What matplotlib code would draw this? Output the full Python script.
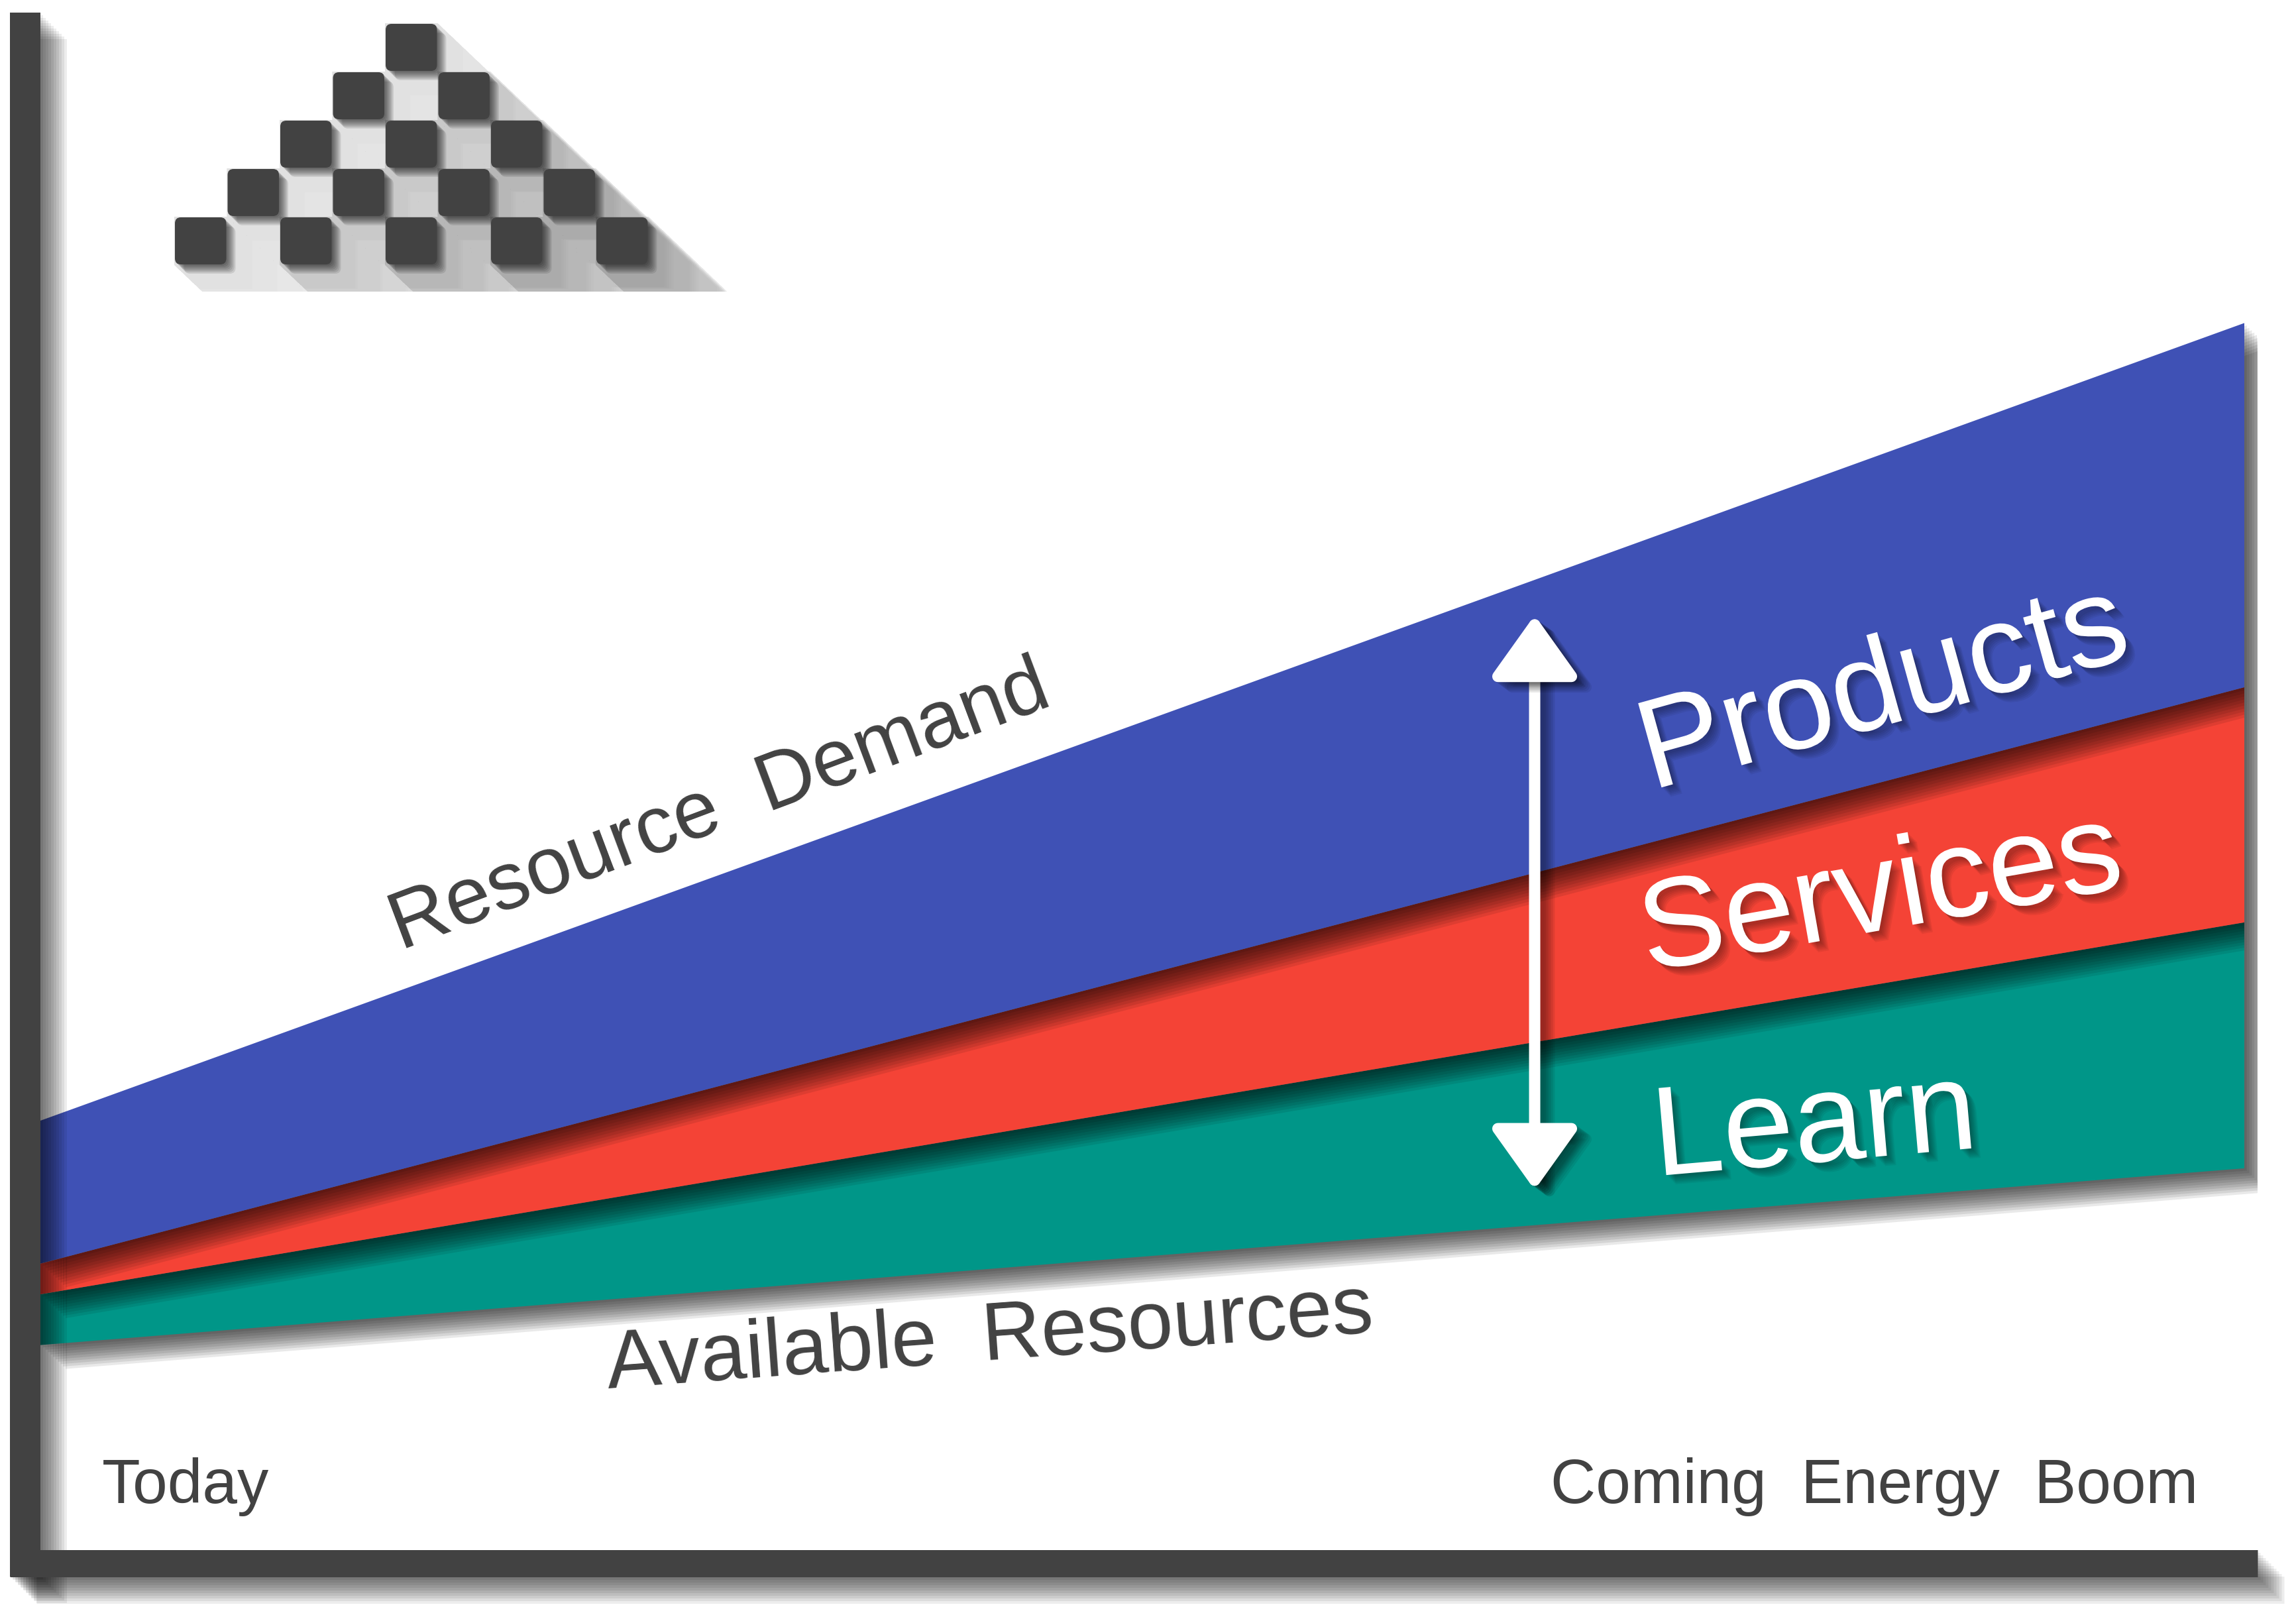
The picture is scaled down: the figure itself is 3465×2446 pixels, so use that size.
import matplotlib
matplotlib.use('Agg')
import matplotlib.pyplot as plt
import matplotlib.patheffects as pe
from matplotlib.patches import FancyBboxPatch, Polygon, Rectangle
import numpy as np

W, H, DPI = 3466, 2446, 200
PX = 72.0 / DPI   # one pixel in points

# Layers of the chart (0 = floor, 100 = top of the y bar)
x_pos = [0.0, 1.0]
x_labels = ['Today', 'Coming  Energy  Boom']
available = [13.3, 24.8]      # Available Resources
learn_top = [16.6, 40.8]
services_top = [18.6, 56.1]
demand = [27.9, 79.8]         # Resource Demand

band_names = ['Learn', 'Services', 'Products']
band_colors = ['#009688', '#F44336', '#3F51B5']
band_label_pos = [(0.733, 24.3), (0.729, 37.6), (0.731, 49.4)]
band_label_rot = [5.0, 10.0, 15.5]

DARK = '#424242'
plt.rcParams['font.family'] = ['Liberation Sans', 'DejaVu Sans']


def soft_shadow(dx, dy, alpha, steps=10, line=False):
    # stack of offset shadows, fakes a blurred drop shadow
    fx = pe.SimpleLineShadow if line else pe.SimplePatchShadow
    out = []
    for k in range(1, steps + 1):
        off = (dx * k / steps * PX, -dy * k / steps * PX)
        if line:
            out.append(fx(offset=off, shadow_color='black', alpha=alpha))
        else:
            out.append(fx(offset=off, shadow_rgbFace='black', alpha=alpha))
    return out


fig = plt.figure(figsize=(W / DPI, H / DPI), dpi=DPI)
fig.patch.set_facecolor('white')

# main axes: left edge = inner side of the y bar, bottom = top of the x bar
left_px, right_px, bottom_px, top_px = 61, 3407, 2338, 19
ax = fig.add_axes([left_px / W, 1 - bottom_px / H,
                   (right_px - left_px) / W, (bottom_px - top_px) / H])
xmax = (right_px - left_px) / (3387 - left_px)
ax.set_xlim(0, xmax)
ax.set_ylim(0, 100)
ax.set_facecolor('none')
ax.set_xticks([])
ax.set_yticks([])

lowers = [available, learn_top, services_top]
uppers = [learn_top, services_top, demand]
for i in range(3):
    ax.fill_between(x_pos, lowers[i], uppers[i], color=band_colors[i], lw=0,
                    zorder=1 + i,
                    path_effects=soft_shadow(38, 36, 0.085) + [pe.Normal()])

# band labels
for name, (lx, ly), rot in zip(band_names, band_label_pos, band_label_rot):
    ax.text(lx, ly, name, rotation=rot, rotation_mode='anchor', ha='left',
            va='baseline', fontsize=69, color='white', zorder=10,
            path_effects=soft_shadow(14, 14, 0.06, steps=7) + [pe.Normal()])

# double arrow between available resources and demand
arrow_x = 0.678
a_top = np.interp(arrow_x, x_pos, demand) - 2.3
a_bot = np.interp(arrow_x, x_pos, available) + 2.3
ax.annotate('', xy=(arrow_x, a_top), xytext=(arrow_x, a_bot),
            arrowprops=dict(arrowstyle='<|-|>,head_length=28,head_width=20',
                            mutation_scale=1, lw=17 * PX, color='white',
                            shrinkA=0, shrinkB=0,
                            path_effects=soft_shadow(22, 16, 0.07, steps=8, line=True)
                            + soft_shadow(22, 16, 0.05, steps=8) + [pe.Normal()]),
            zorder=9)

# line labels
ax.text(0.1636, 39.0, 'Resource  Demand', rotation=20.6, rotation_mode='anchor',
        ha='left', va='baseline', fontsize=44, color=DARK, zorder=10)
ax.text(0.2577, 10.5, 'Available  Resources', rotation=4.2, rotation_mode='anchor',
        ha='left', va='baseline', fontsize=44.5, color=DARK, zorder=10)

# time labels along the x axis
ax.text(x_pos[0] + 0.028, 3.0, x_labels[0], ha='left', va='baseline',
        fontsize=34, color=DARK)
ax.text(x_pos[1] - 0.021, 3.0, x_labels[1], ha='right', va='baseline',
        fontsize=34, color=DARK)

# thick axis bars with shadows
for s in ['top', 'right']:
    ax.spines[s].set_visible(False)
ax.spines['left'].set_linewidth(46 * PX)
ax.spines['left'].set_position(('outward', 23 * PX))
ax.spines['left'].set_bounds((bottom_px - 2379) / (bottom_px - top_px) * 100, 100)
ax.spines['bottom'].set_linewidth(41 * PX)
ax.spines['bottom'].set_position(('outward', 20.5 * PX))
ax.spines['bottom'].set_bounds((15 - left_px) / (3387 - left_px), xmax)
for s in ['left', 'bottom']:
    ax.spines[s].set_color(DARK)
    ax.spines[s].set_capstyle('butt')
    ax.spines[s].set_zorder(20)
    ax.spines[s].set_path_effects(soft_shadow(40, 40, 0.07, line=True) + [pe.Normal()])

# logo: pyramid of rounded squares with long shadows (pixel overlay)
ov = fig.add_axes([0, 0, 1, 1])
ov.set_xlim(0, W)
ov.set_ylim(H, 0)
ov.axis('off')

LOGO_ROWS = 5
CELL_W, CELL_H = 79.5, 73
APEX_X, APEX_Y = 581, 35
SHADOW_FLOOR = 440
SHADOW_LEN = 380
SLOPE = 0.95
clip = Rectangle((0, 0), W, SHADOW_FLOOR, transform=ov.transData)
for r in range(LOGO_ROWS):
    for k in range(r + 1):
        x0 = APEX_X - r * CELL_W + k * 2 * CELL_W
        y0 = APEX_Y + r * CELL_H
        for i in range(1, 11):
            t = SHADOW_LEN * i / 10
            hull = [(x0, y0), (x0 + CELL_W, y0), (x0 + CELL_W + t, y0 + SLOPE * t),
                    (x0 + CELL_W + t, y0 + CELL_H + SLOPE * t),
                    (x0 + t, y0 + CELL_H + SLOPE * t), (x0, y0 + CELL_H)]
            p = Polygon(hull, closed=True, fc='black', ec='none', alpha=0.011, zorder=1)
            ov.add_patch(p)
            p.set_clip_path(clip)
        sq = FancyBboxPatch((x0 + 1, y0 + 1), CELL_W - 2, CELL_H - 2,
                            boxstyle='round,pad=0,rounding_size=9',
                            fc=DARK, ec='none', zorder=3,
                            path_effects=soft_shadow(14, 14, 0.1, steps=7) + [pe.Normal()])
        ov.add_patch(sq)

fig.savefig('out.png', dpi=DPI, facecolor='white')
